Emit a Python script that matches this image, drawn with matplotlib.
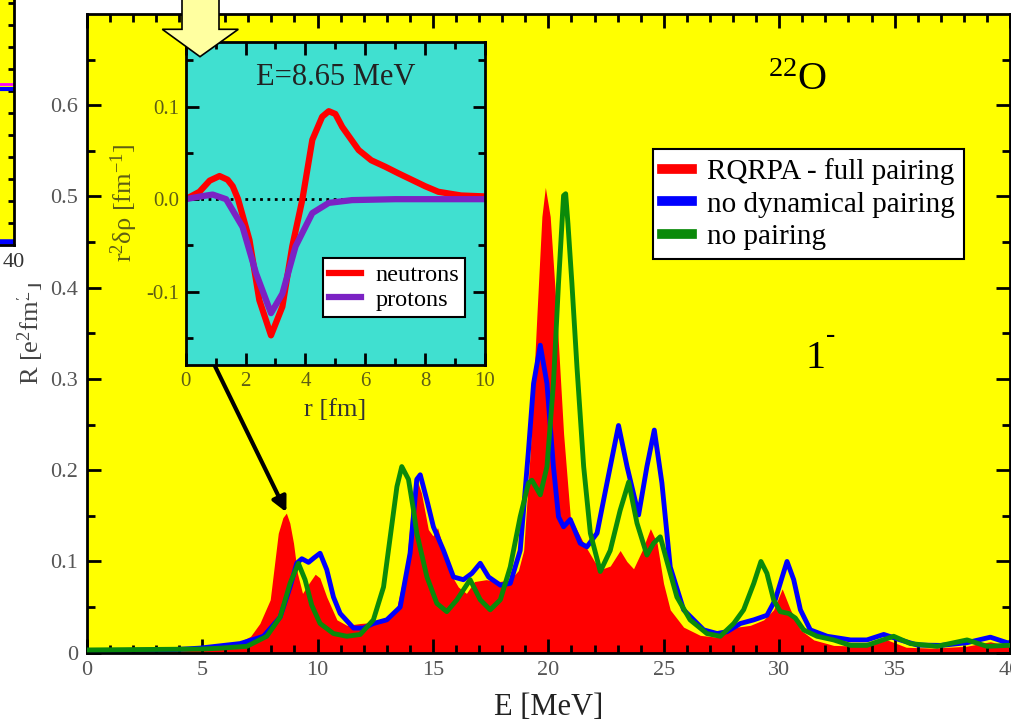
import matplotlib
matplotlib.use('Agg')
import matplotlib.pyplot as plt
from matplotlib.lines import Line2D
from matplotlib.patches import Polygon, Rectangle

# E1 strength of 22O
e_red = [0, 3, 5, 5.8, 6.65, 7.1, 7.5, 7.95, 8.3, 8.5, 8.65, 8.8, 8.96, 9.13, 9.35, 9.6, 9.9, 10.1,
         10.4, 10.84, 11.27, 11.85, 12.35, 13.0, 13.44, 13.87, 14.1, 14.3, 14.5, 14.8, 15.0, 15.2,
         15.5, 15.8, 16.1, 16.45, 16.8, 17.3, 17.9, 18.35, 18.7, 18.93, 19.22, 19.5, 19.72, 19.87,
         20.08, 20.37, 20.66, 20.95, 21.53, 22.0, 22.25, 22.68, 23.11, 23.4, 23.69, 24.06, 24.42,
         24.71, 24.99, 25.28, 25.86, 26.58, 27.3, 28.17, 28.75, 29.33, 29.76, 30.13, 30.49, 30.92,
         31.5, 32.36, 33.8, 34.68, 35.5, 36.6, 38.1, 39.15, 40]
r_red = [0, 0.001, 0.003, 0.0066, 0.012, 0.018, 0.032, 0.058, 0.131, 0.148, 0.153, 0.142, 0.12,
         0.087, 0.065, 0.075, 0.086, 0.082, 0.061, 0.036, 0.030, 0.032, 0.033, 0.038, 0.05, 0.10,
         0.17, 0.19, 0.175, 0.135, 0.128, 0.137, 0.11, 0.085, 0.072, 0.065, 0.078, 0.08, 0.078,
         0.08, 0.09, 0.112, 0.222, 0.368, 0.478, 0.51, 0.478, 0.368, 0.24, 0.149, 0.12, 0.10,
         0.091, 0.095, 0.112, 0.1, 0.092, 0.112, 0.136, 0.12, 0.076, 0.047, 0.028, 0.019, 0.017,
         0.028, 0.030, 0.036, 0.047, 0.070, 0.047, 0.025, 0.014, 0.008, 0.007, 0.014, 0.006,
         0.005, 0.007, 0.012, 0.007]

e_blue = [0, 3.5, 4.9, 6.65, 7.66, 8.38, 8.81, 9.1, 9.32, 9.61, 9.85, 10.11, 10.4, 10.69, 10.98,
          11.56, 11.99, 12.42, 13.0, 13.58, 14.01, 14.3, 14.45, 14.74, 15.02, 15.46, 15.89, 16.32,
          16.69, 17.05, 17.41, 17.92, 18.35, 18.78, 19.14, 19.36, 19.65, 19.94, 20.22, 20.44,
          20.66, 20.95, 21.38, 21.67, 22.11, 22.54, 23.04, 23.41, 23.91, 24.27, 24.59, 24.92,
          25.28, 25.86, 26.73, 27.31, 27.74, 28.32, 28.9, 29.47, 29.83, 30.13, 30.34, 30.63,
          30.92, 31.35, 32.08, 33.09, 33.8, 34.53, 35.25, 35.98, 37.0, 38.14, 39.15, 39.87, 40]
r_blue = [0.002, 0.003, 0.005, 0.010, 0.018, 0.039, 0.072, 0.098, 0.103, 0.099, 0.104, 0.109,
          0.091, 0.061, 0.043, 0.027, 0.027, 0.032, 0.036, 0.05, 0.109, 0.19, 0.195, 0.167, 0.138,
          0.112, 0.083, 0.080, 0.087, 0.098, 0.083, 0.074, 0.076, 0.112, 0.222, 0.295, 0.337,
          0.295, 0.204, 0.149, 0.138, 0.146, 0.12, 0.116, 0.131, 0.186, 0.249, 0.204, 0.151,
          0.204, 0.244, 0.186, 0.094, 0.047, 0.025, 0.021, 0.023, 0.032, 0.036, 0.041, 0.058,
          0.083, 0.100, 0.080, 0.047, 0.025, 0.018, 0.014, 0.014, 0.020, 0.014, 0.0084, 0.008,
          0.011, 0.017, 0.011, 0.011]

e_green = [0, 5.0, 5.79, 6.94, 7.8, 8.38, 8.81, 9.17, 9.46, 9.75, 10.11, 10.69, 11.27, 11.85,
           12.42, 12.86, 13.15, 13.44, 13.65, 13.94, 14.16, 14.3, 14.74, 15.17, 15.6, 16.04, 16.61,
           17.05, 17.48, 17.92, 18.35, 18.78, 19.14, 19.29, 19.65, 19.94, 20.22, 20.44, 20.66,
           20.75, 20.85, 21.02, 21.24, 21.53, 21.82, 22.25, 22.68, 23.11, 23.48, 23.84, 24.27,
           24.56, 24.85, 25.14, 25.57, 26.14, 26.87, 27.45, 28.03, 28.46, 28.9, 29.21, 29.47,
           29.76, 30.05, 30.41, 30.7, 31.06, 31.64, 32.36, 33.09, 33.8, 34.96, 35.68, 36.84,
           38.14, 39.0, 39.87, 40]
r_green = [0.003, 0.004, 0.005, 0.007, 0.018, 0.039, 0.076, 0.098, 0.080, 0.052, 0.032, 0.021,
           0.018, 0.020, 0.036, 0.072, 0.127, 0.182, 0.204, 0.19, 0.156, 0.131, 0.083, 0.054,
           0.045, 0.058, 0.080, 0.058, 0.047, 0.058, 0.094, 0.149, 0.186, 0.189, 0.173, 0.204,
           0.295, 0.405, 0.501, 0.503, 0.47, 0.405, 0.313, 0.204, 0.131, 0.089, 0.112, 0.156,
           0.187, 0.142, 0.107, 0.12, 0.127, 0.10, 0.061, 0.036, 0.021, 0.018, 0.032, 0.047,
           0.076, 0.100, 0.087, 0.058, 0.045, 0.043, 0.038, 0.025, 0.018, 0.014, 0.008, 0.008,
           0.018, 0.010, 0.007, 0.014, 0.007, 0.008, 0.008]

series_labels = ['RQRPA - full pairing', 'no dynamical pairing', 'no pairing']

# transition density at E = 8.65 MeV
r_n = [0, 0.46, 0.8, 1.13, 1.4, 1.57, 1.75, 2.13, 2.46, 2.85, 3.23, 3.56, 3.9, 4.23, 4.56, 4.78,
       5.0, 5.23, 5.78, 6.2, 6.67, 7.1, 7.55, 8.0, 8.44, 9.2, 10]
rho_n = [0, 0.008, 0.02, 0.025, 0.021, 0.014, 0.0, -0.044, -0.109, -0.147, -0.116, -0.051, 0.0,
         0.064, 0.089, 0.095, 0.092, 0.078, 0.053, 0.042, 0.035, 0.028, 0.021, 0.014, 0.008,
         0.004, 0.003]
r_p = [0, 0.5, 0.9, 1.35, 1.9, 2.35, 2.85, 3.23, 3.67, 4.23, 4.78, 5.56, 7, 10]
rho_p = [0, 0.003, 0.005, 0.0, -0.030, -0.080, -0.123, -0.102, -0.051, -0.015, -0.004, -0.001, 0, 0]

# piece of the neighbouring chart at the left edge
side_x = [30, 40]
side_blue = [0.12, 0.12]
side_blue2 = [7.1, 7.1]
side_pink = [7.3, 7.3]

plt.rcParams['font.family'] = ['Liberation Serif', 'DejaVu Serif']
plt.rcParams['mathtext.fontset'] = 'custom'
plt.rcParams['mathtext.rm'] = 'Liberation Serif'
plt.rcParams['mathtext.it'] = 'Liberation Serif:italic'

W, H = 1012, 723
fig = plt.figure(figsize=(W / 100, H / 100), dpi=100)


def box(x0, y0, x1, y1):
    # pixel box measured from the top-left of the picture -> figure fraction
    return [x0 / W, 1 - y1 / H, (x1 - x0) / W, (y1 - y0) / H]


# main panel
ax = fig.add_axes(box(86.7, 14, 1010, 652.7))
ax.set_facecolor('#ffff00')
ax.fill_between(e_red, r_red, color='#ff0000', lw=0, zorder=1)
ax.plot(e_blue, r_blue, color='#0000ff', lw=3.5, zorder=2, solid_joinstyle='round')
ax.plot(e_green, r_green, color='#0a8a0a', lw=3.5, zorder=3, solid_joinstyle='round')
ax.set_xlim(0, 40)
ax.set_ylim(0, 0.7)
ax.set_xticks(range(0, 41, 5))
ax.set_xticks(range(0, 41), minor=True)
ax.set_yticks([0, 0.1, 0.2, 0.3, 0.4, 0.5, 0.6], ['0', '0.1', '0.2', '0.3', '0.4', '0.5', '0.6'])
ax.set_yticks([0.05, 0.15, 0.25, 0.35, 0.45, 0.55, 0.65], minor=True)
ax.tick_params(which='both', direction='in', top=True, right=True, width=2,
               labelsize=16, labelcolor='#555555', pad=6)
ax.tick_params(which='major', length=10)
ax.tick_params(which='minor', length=6)
for s in ax.spines.values():
    s.set_linewidth(2)
ax.set_xlabel('E [MeV]', fontsize=22, color='#222222', labelpad=9)
ax.set_ylabel('R [e$^2$fm$^2$]', fontsize=19, color='#444444', labelpad=3)
ax.text(30.8, 0.627, '$^{22}$O', fontsize=29, ha='center', va='center')
ax.text(31.58, 0.322, '1', fontsize=29, ha='center', va='center')
ax.text(32.25, 0.348, '-', fontsize=20, ha='center', va='center')

handles = [Line2D([], [], color=c, lw=7) for c in ['#ff0000', '#0000ff', '#0a8a0a']]
leg = ax.legend(handles, series_labels, loc='upper left', bbox_to_anchor=(0.6134, 0.7886),
                fontsize=21, fancybox=False, edgecolor='black', framealpha=1,
                handlelength=1.05, handletextpad=0.5, borderpad=0.3, labelspacing=0.22,
                borderaxespad=0)
leg.get_frame().set_linewidth(1.5)

# inset panel
ins = fig.add_axes(box(185.7, 41.7, 485, 365), zorder=3)
ins.set_facecolor('#40e0d0')
ins.axhline(0, color='black', ls=':', lw=2, zorder=1)
ins.plot(r_n, rho_n, color='#ff0000', lw=4.5, label='neutrons', solid_joinstyle='round')
ins.plot(r_p, rho_p, color='#7b22c4', lw=4.5, label='protons', solid_joinstyle='round')
ins.set_xlim(0, 10)
ins.set_ylim(-0.179, 0.170)
ins.set_xticks(range(0, 11, 2))
ins.set_xticks(range(0, 11), minor=True)
ins.set_yticks([-0.1, 0, 0.1], ['-0.1', '0.0', '0.1'])
ins.set_yticks([-0.15, -0.05, 0.05, 0.15], minor=True)
ins.tick_params(which='both', direction='in', top=True, right=True, width=2,
                labelsize=15, labelcolor='#5e5e14', pad=5)
ins.tick_params(which='major', length=9)
ins.tick_params(which='minor', length=5)
for s in ins.spines.values():
    s.set_linewidth(2)
ins.set_xlabel('r [fm]', fontsize=19, color='#333333', labelpad=6)
ins.set_ylabel('r$^2$δρ [fm$^{-1}$]', fontsize=19, color='#5e5e14', labelpad=4)
ins.text(0.5, 0.888, 'E=8.65 MeV', fontsize=22, color='#222222', ha='center', va='center',
         transform=ins.transAxes)
ileg = ins.legend(loc='upper left', bbox_to_anchor=(0.4587, 0.331), fontsize=17.5,
                  fancybox=False, edgecolor='black', framealpha=1, handlelength=1.3,
                  handletextpad=0.6, borderpad=0.25, labelspacing=0.1, borderaxespad=0)
ileg.get_frame().set_linewidth(1.5)

# arrow from the inset to the 8.65 MeV peak
ax.annotate('', xy=(8.65, 0.154), xytext=(0.096, 0.0), textcoords=ins.transAxes,
            arrowprops=dict(arrowstyle='-|>', lw=3, color='black', mutation_scale=22,
                            shrinkA=0, shrinkB=0), zorder=4)

# neighbouring chart cut by the left edge, and its white background
fig.add_artist(Rectangle((0, 1 - 298 / H), 28 / W, 298 / H, transform=fig.transFigure,
                         facecolor='white', edgecolor='none', zorder=1))
side = fig.add_axes([-0.2, 1 - 245 / H, 0.2 + 14 / W, 0.36], zorder=2)
side.set_facecolor('#ffff00')
side.plot(side_x, side_blue, color='#0000ff', lw=4)
side.plot(side_x, side_blue2, color='#0000ff', lw=3)
side.plot(side_x, side_pink, color='#ff00ff', lw=2)
side.set_xlim(30, 40)
side.set_ylim(0, 0.36 * H / 22)
side.set_xticks([40], ['40'])
side.set_yticks(range(1, 12))
side.tick_params(axis='x', length=0, labelsize=16, labelcolor='#333333', pad=6)
side.tick_params(axis='y', left=False, right=True, labelleft=False, direction='in',
                 length=4, width=2)
for s in side.spines.values():
    s.set_linewidth(2)

# pale yellow pointer at the top
pts = [(182, -5), (219, -5), (219, 29.3), (238.3, 29.3), (200, 56.7), (162.3, 29.3), (182, 29.3)]
fig.add_artist(Polygon([(x / W, 1 - y / H) for x, y in pts], closed=True,
                       transform=fig.transFigure, facecolor='#ffffa0', edgecolor='black',
                       lw=1.2, zorder=10))

fig.savefig('out.png', dpi=100)
